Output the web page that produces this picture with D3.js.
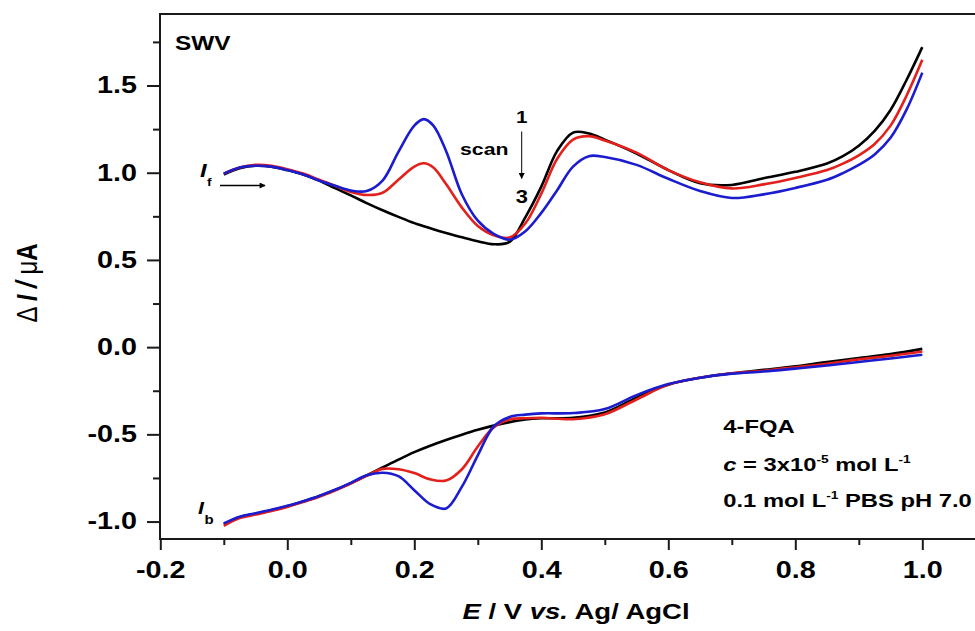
<!DOCTYPE html>
<html><head><meta charset="utf-8">
<script src="https://cdn.jsdelivr.net/npm/d3@7"></script>
<style>html,body{margin:0;padding:0;background:#fff;overflow:hidden}</style>
</head><body>
<svg id="chart" width="975" height="631"></svg>
<script>
// ---- data ----
const potentialTop = [-0.1,-0.075,-0.05,-0.025,0.0,0.025,0.05,0.075,0.1,0.125,0.15,0.175,0.2,0.215,0.23,0.25,0.275,0.3,0.325,0.35,0.375,0.4,0.425,0.45,0.475,0.5,0.55,0.6,0.65,0.7,0.75,0.8,0.85,0.875,0.9,0.925,0.95,0.975,1.0];
const forwardScan1 = [0.99,1.025,1.04,1.035,1.015,0.99,0.955,0.912,0.87,0.826,0.785,0.747,0.711,0.693,0.676,0.655,0.63,0.607,0.59,0.603,0.745,0.92,1.125,1.23,1.225,1.19,1.11,1.015,0.94,0.93,0.968,1.005,1.053,1.095,1.155,1.24,1.36,1.53,1.72];
const forwardScan2 = [0.995,1.03,1.045,1.04,1.02,0.995,0.96,0.925,0.89,0.872,0.885,0.96,1.035,1.054,1.03,0.935,0.8,0.695,0.642,0.628,0.71,0.88,1.08,1.19,1.21,1.185,1.115,1.015,0.945,0.91,0.933,0.97,1.015,1.052,1.1,1.165,1.27,1.44,1.647];
const forwardScan3 = [0.995,1.03,1.04,1.035,1.015,0.99,0.955,0.925,0.898,0.895,0.955,1.12,1.27,1.307,1.27,1.125,0.875,0.725,0.65,0.616,0.665,0.77,0.9,1.035,1.095,1.09,1.045,0.965,0.895,0.855,0.876,0.913,0.96,0.998,1.045,1.105,1.2,1.36,1.574];

const potentialBottom = [-0.1,-0.075,-0.05,-0.025,0.0,0.025,0.05,0.075,0.1,0.125,0.15,0.175,0.2,0.225,0.25,0.275,0.3,0.325,0.35,0.375,0.4,0.45,0.5,0.55,0.6,0.65,0.7,0.75,0.8,0.85,0.9,0.95,1.0];
const backwardScan1 = [-1.015,-0.975,-0.955,-0.935,-0.912,-0.885,-0.855,-0.82,-0.78,-0.735,-0.69,-0.645,-0.602,-0.565,-0.532,-0.502,-0.474,-0.45,-0.43,-0.415,-0.408,-0.405,-0.375,-0.29,-0.215,-0.175,-0.15,-0.13,-0.11,-0.085,-0.063,-0.04,-0.01];
const backwardScan2 = [-1.025,-0.98,-0.96,-0.94,-0.916,-0.888,-0.858,-0.822,-0.782,-0.738,-0.698,-0.7,-0.722,-0.758,-0.765,-0.7,-0.57,-0.46,-0.415,-0.408,-0.405,-0.413,-0.385,-0.3,-0.215,-0.175,-0.15,-0.135,-0.115,-0.095,-0.07,-0.05,-0.025];
const backwardScan3 = [-1.01,-0.972,-0.952,-0.932,-0.91,-0.883,-0.853,-0.818,-0.778,-0.735,-0.72,-0.74,-0.82,-0.9,-0.925,-0.8,-0.62,-0.455,-0.4,-0.387,-0.38,-0.378,-0.355,-0.275,-0.212,-0.175,-0.152,-0.14,-0.123,-0.105,-0.085,-0.065,-0.044];

const scanNames = ["scan 1","scan 2","scan 3"];
const scanColors = ["#000000","#e3201b","#1c1ccf"];
const xMajorTicks = [-0.2,0.0,0.2,0.4,0.6,0.8,1.0];
const xMinorTicks = [-0.1,0.1,0.3,0.5,0.7,0.9];
const yMajorTicks = [-1.0,-0.5,0.0,0.5,1.0,1.5];
const yMinorTicks = [-0.75,-0.25,0.25,0.75,1.25,1.75];

// ---- layout ----
const FONT = "'Liberation Sans', Arial, sans-serif";
const SX = 1.25; // horizontal stretch of the reference's lettering
const svg = d3.select("#chart");
const x = d3.scaleLinear().domain([-0.2, 1.1]).range([160.3, 985.8]);
const y = d3.scaleLinear().domain([-1.1, 1.91]).range([539, 14]);

// frame
const frameColor = "#1a1a1a";
svg.append("line").attr("x1",160).attr("x2",990).attr("y1",14).attr("y2",14).attr("stroke",frameColor).attr("stroke-width",2);
svg.append("line").attr("x1",160).attr("x2",990).attr("y1",539).attr("y2",539).attr("stroke",frameColor).attr("stroke-width",2);
svg.append("line").attr("x1",160).attr("x2",160).attr("y1",13).attr("y2",540).attr("stroke",frameColor).attr("stroke-width",2);

// axes
function styleAxis(g){
  g.select(".domain").remove();
  g.selectAll(".tick line").attr("stroke",frameColor).attr("stroke-width",2);
  g.selectAll(".tick text").attr("fill","#000").attr("font-family",FONT).attr("font-weight","bold").attr("font-size",23);
}
const gxMaj = svg.append("g").attr("transform","translate(0,539)")
  .call(d3.axisBottom(x).tickValues(xMajorTicks).tickSize(11).tickPadding(11.7).tickFormat(d3.format(".1f")));
styleAxis(gxMaj);
gxMaj.selectAll(".tick text").text(d => d3.format(".1f")(d).replace("−","-")).attr("transform",`scale(${SX},1)`);
const gxMin = svg.append("g").attr("transform","translate(0,539)")
  .call(d3.axisBottom(x).tickValues(xMinorTicks).tickSize(6).tickFormat(""));
styleAxis(gxMin);

const gyMaj = svg.append("g").attr("transform","translate(160,0)")
  .call(d3.axisLeft(y).tickValues(yMajorTicks).tickSize(13).tickPadding(5.4).tickFormat(d3.format(".1f")));
styleAxis(gyMaj);
gyMaj.selectAll(".tick text").text(d => d3.format(".1f")(d).replace("−","-")).attr("transform",`scale(${SX},1)`);
const gyMin = svg.append("g").attr("transform","translate(160,0)")
  .call(d3.axisLeft(y).tickValues(yMinorTicks).tickSize(7).tickFormat(""));
styleAxis(gyMin);

// curves
const line = d3.line().x(d => x(d[0])).y(d => y(d[1])).curve(d3.curveCatmullRom.alpha(0.5));
const topSeries = [forwardScan1, forwardScan2, forwardScan3];
const botSeries = [backwardScan1, backwardScan2, backwardScan3];
const curves = svg.append("g");
[0,1,2].forEach(i => {
  curves.append("path").datum(d3.zip(potentialTop, topSeries[i]))
    .attr("d", line).attr("fill","none").attr("stroke",scanColors[i]).attr("stroke-width",2.6).attr("stroke-linejoin","round");
  curves.append("path").datum(d3.zip(potentialBottom, botSeries[i]))
    .attr("d", line).attr("fill","none").attr("stroke",scanColors[i]).attr("stroke-width",2.6).attr("stroke-linejoin","round");
});

// text helper
function label(px, py, parts, opt){
  let tr = `translate(${px},${py}) scale(${SX},1)` + (opt.rot ? ` rotate(${opt.rot})` : "");
  const g = svg.append("g").attr("transform", tr);
  const t = g.append("text").attr("text-anchor", opt.anchor || "start")
    .attr("font-size", opt.size).attr("font-family", FONT).attr("font-weight","bold").attr("fill","#000");
  let shift = 0;
  parts.forEach(p => {
    const s = t.append("tspan").text(p.t);
    if (p.it) s.attr("font-style","italic");
    if (p.w) s.attr("font-weight", p.w);
    if (p.size) s.attr("font-size", p.size);
    const target = p.raise || 0;
    if (target !== shift) { s.attr("dy", -(target - shift)); shift = target; }
  });
  return g;
}

// axis titles
label(576, 619, [{t:"E",it:true},{t:" / V  "},{t:"vs.",it:true},{t:" Ag/ AgCl"}], {size:22, anchor:"middle"});
label(37, 283, [{t:"Δ ",w:"normal"},{t:"I",it:true},{t:" / ",it:true},{t:"μ",w:"normal"},{t:"A"}], {size:24, anchor:"middle", rot:-90});

// annotations
label(175, 50, [{t:"SWV"}], {size:19.5});
label(200, 177, [{t:"I",it:true}], {size:19});
label(207, 185.5, [{t:"f"}], {size:11});
label(198, 514, [{t:"I",it:true}], {size:17});
label(204.5, 524, [{t:"b"}], {size:12});
label(460, 155, [{t:"scan"}], {size:17});
label(521.7, 123.3, [{t:"1"}], {size:16.5, anchor:"middle"});
label(521.7, 203.3, [{t:"3"}], {size:17.5, anchor:"middle"});
label(723.3, 433.3, [{t:"4-FQA"}], {size:19});
label(723.3, 470.5, [{t:"c",it:true},{t:" = 3x10"},{t:"-5",size:11,raise:8},{t:"  mol L",raise:0},{t:"-1",size:11,raise:8}], {size:19});
label(723.3, 507, [{t:"0.1 mol L"},{t:"-1",size:11,raise:8},{t:" PBS pH 7.0",raise:0}], {size:19});

// arrows
const defs = svg.append("defs");
defs.append("marker").attr("id","ah").attr("viewBox","0 0 10 10").attr("refX",9).attr("refY",5)
  .attr("markerWidth",10).attr("markerHeight",6).attr("markerUnits","userSpaceOnUse").attr("orient","auto")
  .append("path").attr("d","M0,0 L10,5 L0,10 z").attr("fill","#000");
svg.append("line").attr("x1",220).attr("x2",265).attr("y1",185.5).attr("y2",185.5)
  .attr("stroke","#000").attr("stroke-width",1.6).attr("marker-end","url(#ah)");
svg.append("line").attr("x1",521.7).attr("x2",521.7).attr("y1",131.5).attr("y2",178.5)
  .attr("stroke","#000").attr("stroke-width",1).attr("marker-end","url(#ah)");
</script>
</body></html>
